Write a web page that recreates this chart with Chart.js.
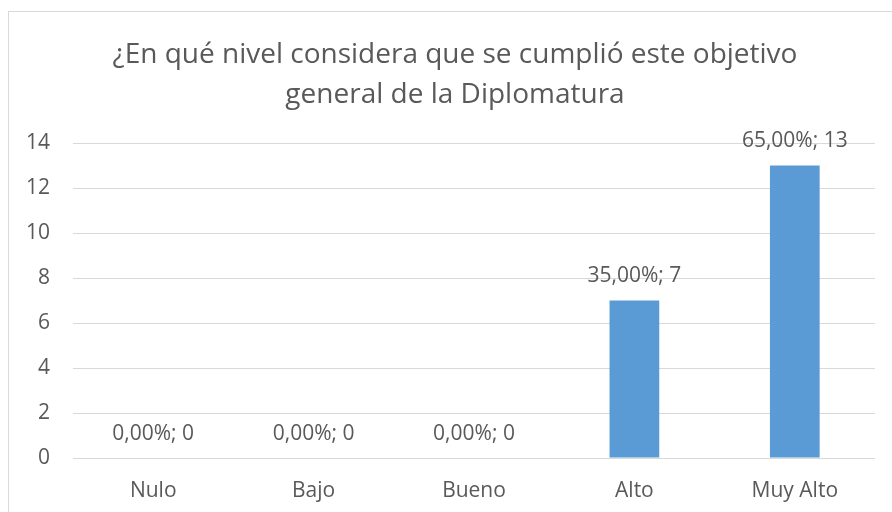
<!DOCTYPE html>
<html>
<head>
<meta charset="utf-8">
<script src="https://cdn.jsdelivr.net/npm/chart.js@4/dist/chart.umd.min.js"></script>
<style>
  html, body { margin: 0; padding: 0; background: #ffffff; width: 892px; height: 512px; overflow: hidden; }
  #box { position: absolute; left: 8px; top: 11px; width: 900px; height: 520px; border-left: 1px solid #d9d9d9; border-top: 1px solid #d9d9d9; }
  #wrap { position: absolute; left: 9px; top: 12px; width: 892px; height: 500px; }
</style>
</head>
<body>
<div id="box"></div>
<div id="wrap"><canvas id="c"></canvas></div>
<script>
const categories = ["Nulo", "Bajo", "Bueno", "Alto", "Muy Alto"];
const counts = [0, 0, 0, 7, 13];
const percentLabels = ["0,00%", "0,00%", "0,00%", "35,00%", "65,00%"];
const yTicks = [0, 2, 4, 6, 8, 10, 12, 14];
const titleLines = ["¿En qué nivel considera que se cumplió este objetivo", "general de la Diplomatura"];

const textColor = "#595959";
const fontFamily = "'Open Sans', Lato, sans-serif";

const dataLabels = {
  id: "dataLabels",
  afterDatasetsDraw(chart) {
    const ctx = chart.ctx;
    const meta = chart.getDatasetMeta(0);
    ctx.save();
    ctx.font = "21px " + fontFamily;
    ctx.fillStyle = textColor;
    ctx.textAlign = "center";
    ctx.textBaseline = "middle";
    meta.data.forEach((bar, i) => {
      ctx.fillText(percentLabels[i] + "; " + counts[i], bar.x, bar.y - 24);
    });
    ctx.restore();
  }
};

new Chart(document.getElementById("c"), {
  type: "bar",
  data: {
    labels: categories,
    datasets: [{
      data: counts,
      backgroundColor: "#5b9bd5",
      borderWidth: 0,
      categoryPercentage: 1,
      barPercentage: 0.31
    }]
  },
  options: {
    responsive: true,
    maintainAspectRatio: false,
    animation: false,
    layout: { padding: 0 },
    plugins: {
      legend: { display: false },
      tooltip: { enabled: false },
      title: {
        display: true,
        text: titleLines,
        color: textColor,
        font: { family: fontFamily, size: 28, weight: "normal", lineHeight: 40 / 28 },
        padding: { top: 23, bottom: 28 }
      }
    },
    scales: {
      x: {
        grid: { display: false },
        border: { display: false },
        ticks: { color: textColor, font: { family: fontFamily, size: 21 }, padding: 12 },
        afterFit(scale) { scale.height = 54; }
      },
      y: {
        min: 0,
        max: 14,
        afterBuildTicks(scale) { scale.ticks = yTicks.map(v => ({ value: v })); },
        grid: { color: "#d9d9d9", lineWidth: 1, drawTicks: false },
        border: { display: false },
        ticks: { color: textColor, font: { family: fontFamily, size: 21 }, padding: 23 },
        afterFit(scale) { scale.width = 64; }
      },
      yRight: {
        position: "right",
        display: true,
        grid: { display: false },
        border: { display: false },
        ticks: { display: false },
        afterFit(scale) { scale.width = 26; }
      }
    }
  },
  plugins: [dataLabels]
});
</script>
</body>
</html>
